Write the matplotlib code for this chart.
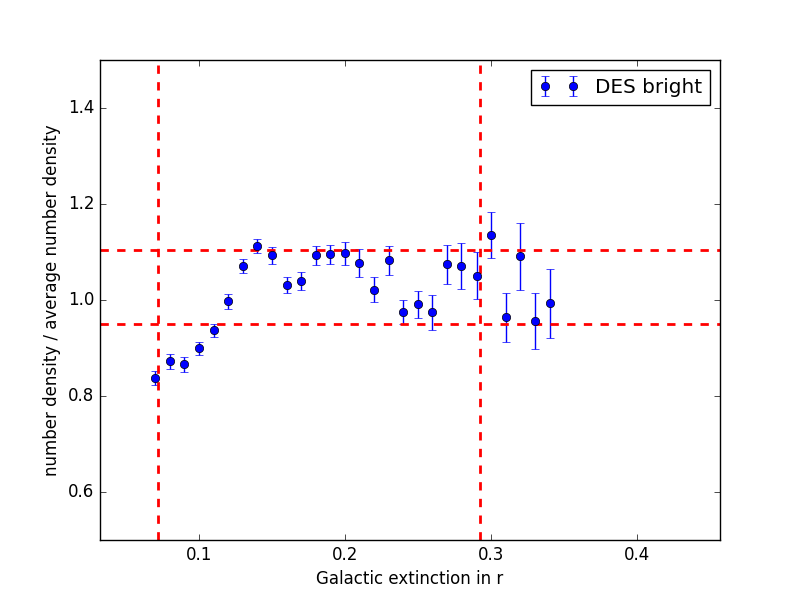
import matplotlib
matplotlib.use("Agg")
import matplotlib.pyplot as plt
import numpy as np

plt.style.use('classic')

# extinction bins and normalised number density
ext = [0.0699, 0.0803, 0.0902, 0.1000, 0.1105, 0.1200, 0.1303, 0.1400,
       0.1502, 0.1605, 0.1700, 0.1803, 0.1897, 0.2002, 0.2096, 0.2201,
       0.2303, 0.2399, 0.2502, 0.2598, 0.2701, 0.2797, 0.2902, 0.3000,
       0.3100, 0.3200, 0.3297, 0.3400]
dens = [0.837, 0.872, 0.866, 0.899, 0.937, 0.997, 1.071, 1.112,
        1.093, 1.031, 1.040, 1.093, 1.095, 1.097, 1.077, 1.021,
        1.083, 0.974, 0.991, 0.974, 1.074, 1.070, 1.051, 1.135,
        0.964, 1.091, 0.956, 0.993]
err = [0.015, 0.015, 0.015, 0.013, 0.014, 0.015, 0.014, 0.015,
       0.017, 0.017, 0.019, 0.020, 0.020, 0.024, 0.030, 0.026,
       0.030, 0.025, 0.028, 0.037, 0.040, 0.048, 0.048, 0.048,
       0.051, 0.070, 0.059, 0.072]

ext_cuts = [0.072, 0.2925]
dens_cuts = [0.950, 1.104]

fig = plt.figure(figsize=(8, 6), dpi=100)
ax = fig.add_subplot(111)

ax.errorbar(ext, dens, yerr=err, fmt='o', color='b', ecolor='b',
            label='DES bright')

for xc in ext_cuts:
    ax.axvline(xc, color='r', linestyle='--', linewidth=2)
for yc in dens_cuts:
    ax.axhline(yc, color='r', linestyle='--', linewidth=2)

ax.set_xlim(0.0325, 0.4565)
ax.set_ylim(0.5, 1.5)
ax.set_xticks([0.1, 0.2, 0.3, 0.4])
ax.set_yticks([0.6, 0.8, 1.0, 1.2, 1.4])
ax.set_xlabel('Galactic extinction in r')
ax.set_ylabel('number density / average number density')
ax.legend(loc='upper right')

plt.savefig('out.png', dpi=100)
